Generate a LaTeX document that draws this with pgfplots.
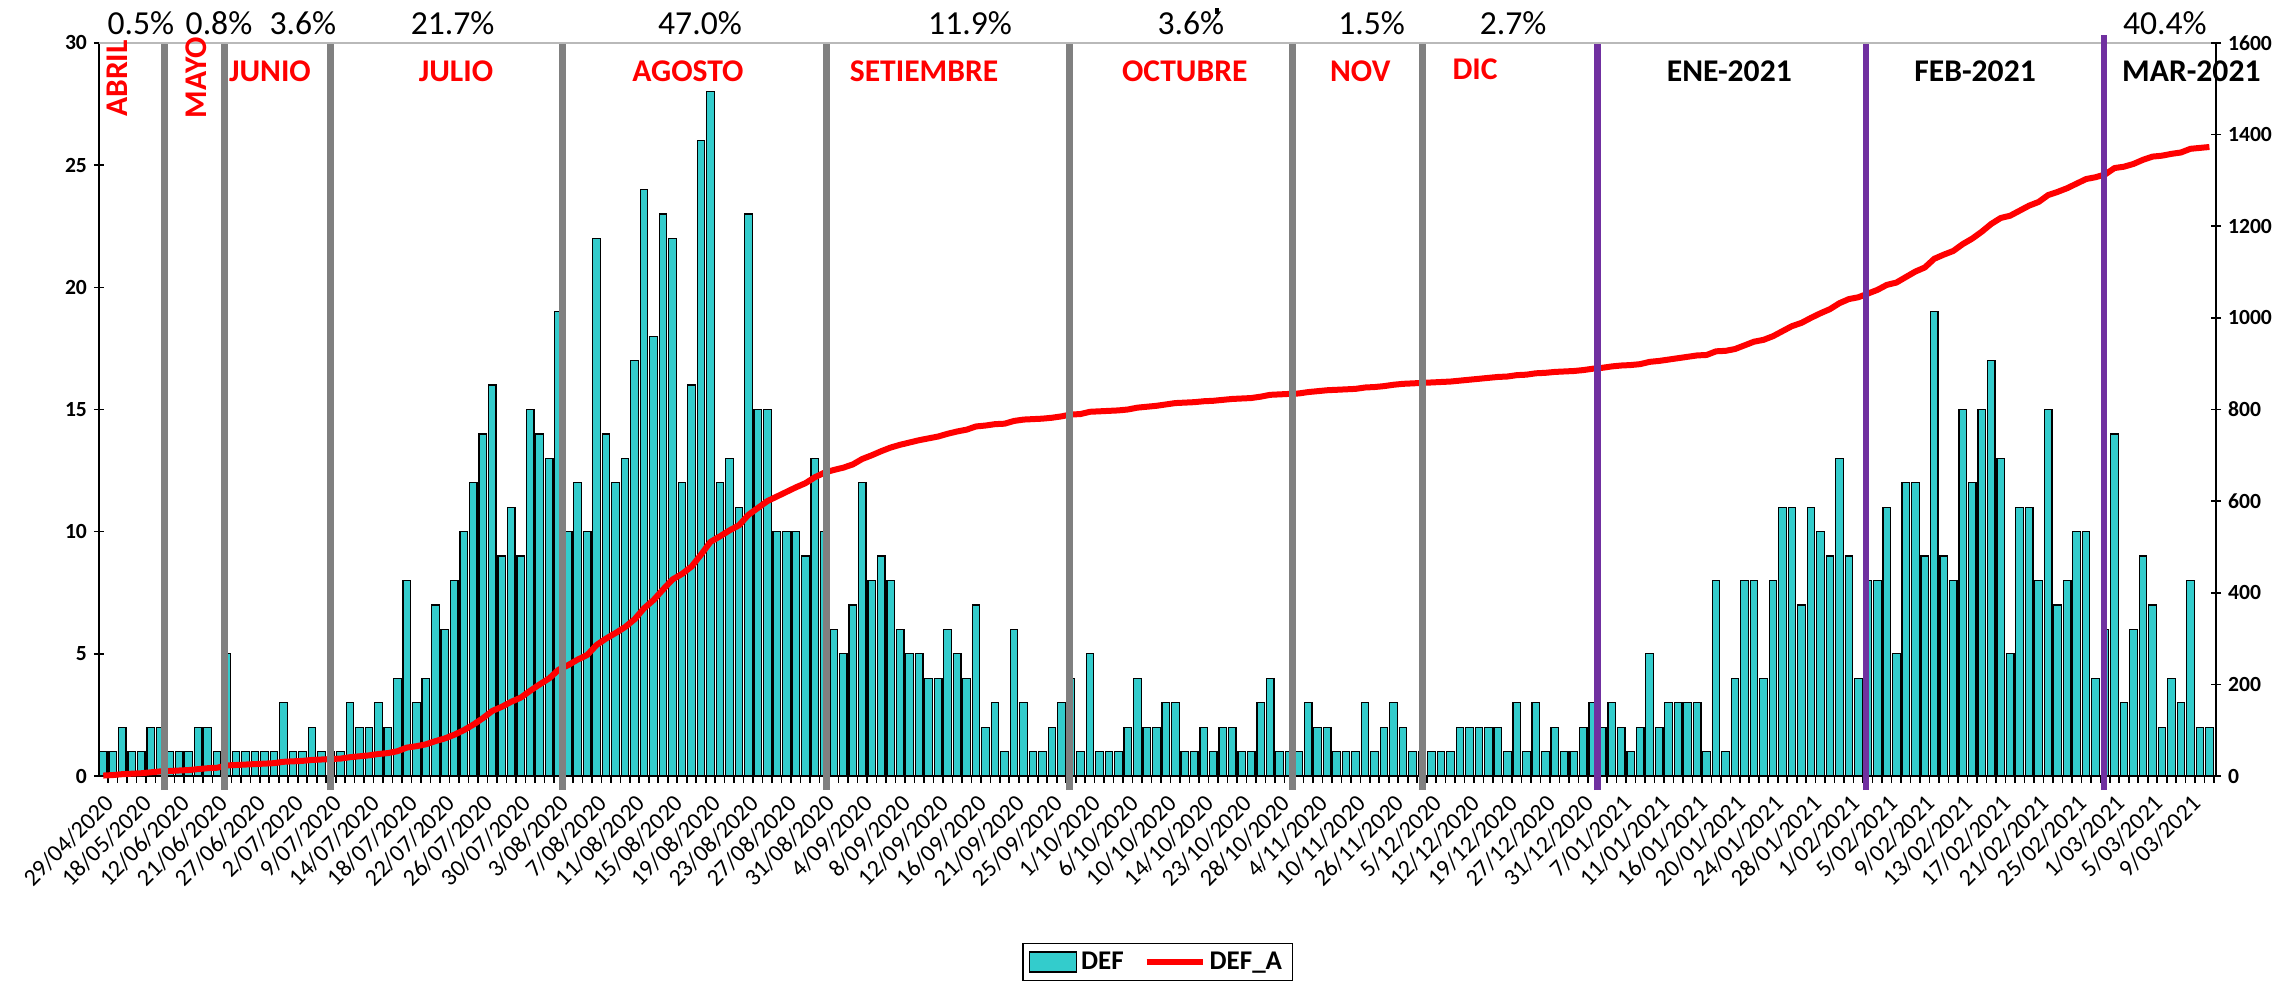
\documentclass[border=0pt]{standalone}
\usepackage{fontspec}
\setmainfont{Carlito}
\usepackage{pgfplots}
\usepackage{pgfplotstable}
\pgfplotsset{compat=1.18}
\definecolor{barcol}{RGB}{51,204,204}
\definecolor{sepgray}{RGB}{128,128,128}
\definecolor{purp}{RGB}{112,48,160}

% i = category (day with deaths), def = daily deaths, cum = accumulated (DEF_A)
\pgfplotstableread[row sep=\\]{
i def cum\\
0 1 1\\ 1 1 2\\ 2 2 4\\ 3 1 5\\ 4 1 6\\ 5 2 8\\ 6 2 10\\ 7 1 11\\ 8 1 12\\ 9 1 13\\
10 2 15\\ 11 2 17\\ 12 1 18\\ 13 5 23\\ 14 1 24\\ 15 1 25\\ 16 1 26\\ 17 1 27\\ 18 1 28\\ 19 3 31\\
20 1 32\\ 21 1 33\\ 22 2 35\\ 23 1 36\\ 24 1 37\\ 25 1 38\\ 26 3 41\\ 27 2 43\\ 28 2 45\\ 29 3 48\\
30 2 50\\ 31 4 54\\ 32 8 62\\ 33 3 65\\ 34 4 69\\ 35 7 76\\ 36 6 82\\ 37 8 90\\ 38 10 100\\ 39 12 112\\
40 14 126\\ 41 16 142\\ 42 9 151\\ 43 11 162\\ 44 9 171\\ 45 15 186\\ 46 14 200\\ 47 13 213\\ 48 19 232\\ 49 10 242\\
50 12 254\\ 51 10 264\\ 52 22 286\\ 53 14 300\\ 54 12 312\\ 55 13 325\\ 56 17 342\\ 57 24 366\\ 58 18 384\\ 59 23 407\\
60 22 429\\ 61 12 441\\ 62 16 457\\ 63 26 483\\ 64 28 511\\ 65 12 523\\ 66 13 536\\ 67 11 547\\ 68 23 570\\ 69 15 585\\
70 15 600\\ 71 10 610\\ 72 10 620\\ 73 10 630\\ 74 9 639\\ 75 13 652\\ 76 10 662\\ 77 6 668\\ 78 5 673\\ 79 7 680\\
80 12 692\\ 81 8 700\\ 82 9 709\\ 83 8 717\\ 84 6 723\\ 85 5 728\\ 86 5 733\\ 87 4 737\\ 88 4 741\\ 89 6 747\\
90 5 752\\ 91 4 756\\ 92 7 763\\ 93 2 765\\ 94 3 768\\ 95 1 769\\ 96 6 775\\ 97 3 778\\ 98 1 779\\ 99 1 780\\
100 2 782\\ 101 3 785\\ 102 4 789\\ 103 1 790\\ 104 5 795\\ 105 1 796\\ 106 1 797\\ 107 1 798\\ 108 2 800\\ 109 4 804\\
110 2 806\\ 111 2 808\\ 112 3 811\\ 113 3 814\\ 114 1 815\\ 115 1 816\\ 116 2 818\\ 117 1 819\\ 118 2 821\\ 119 2 823\\
120 1 824\\ 121 1 825\\ 122 3 828\\ 123 4 832\\ 124 1 833\\ 125 1 834\\ 126 1 835\\ 127 3 838\\ 128 2 840\\ 129 2 842\\
130 1 843\\ 131 1 844\\ 132 1 845\\ 133 3 848\\ 134 1 849\\ 135 2 851\\ 136 3 854\\ 137 2 856\\ 138 1 857\\ 139 1 858\\
140 1 859\\ 141 1 860\\ 142 1 861\\ 143 2 863\\ 144 2 865\\ 145 2 867\\ 146 2 869\\ 147 2 871\\ 148 1 872\\ 149 3 875\\
150 1 876\\ 151 3 879\\ 152 1 880\\ 153 2 882\\ 154 1 883\\ 155 1 884\\ 156 2 886\\ 157 3 889\\ 158 2 891\\ 159 3 894\\
160 2 896\\ 161 1 897\\ 162 2 899\\ 163 5 904\\ 164 2 906\\ 165 3 909\\ 166 3 912\\ 167 3 915\\ 168 3 918\\ 169 1 919\\
170 8 927\\ 171 1 928\\ 172 4 932\\ 173 8 940\\ 174 8 948\\ 175 4 952\\ 176 8 960\\ 177 11 971\\ 178 11 982\\ 179 7 989\\
180 11 1000\\ 181 10 1010\\ 182 9 1019\\ 183 13 1032\\ 184 9 1041\\ 185 4 1045\\ 186 8 1053\\ 187 8 1061\\ 188 11 1072\\ 189 5 1077\\
190 12 1089\\ 191 12 1101\\ 192 9 1110\\ 193 19 1129\\ 194 9 1138\\ 195 8 1146\\ 196 15 1161\\ 197 12 1173\\ 198 15 1188\\ 199 17 1205\\
200 13 1218\\ 201 5 1223\\ 202 11 1234\\ 203 11 1245\\ 204 8 1253\\ 205 15 1268\\ 206 7 1275\\ 207 8 1283\\ 208 10 1293\\ 209 10 1303\\
210 4 1307\\ 211 6 1313\\ 212 14 1327\\ 213 3 1330\\ 214 6 1336\\ 215 9 1345\\ 216 7 1352\\ 217 2 1354\\ 218 4 1358\\ 219 3 1361\\
220 8 1369\\ 221 2 1371\\ 222 2 1373\\
}\deftab

\newcommand{\mon}{\fontsize{15.8}{18}\selectfont\bfseries}
\newcommand{\pct}{\fontsize{16.8}{19}\selectfont}

\begin{document}
\begin{tikzpicture}
\begin{axis}[
  at={(0,0)}, anchor=south west,
  scale only axis, width=1058.5pt, height=366.5pt,
  xmin=-0.45, xmax=222.7, ymin=0, ymax=30,
  axis x line*=bottom, axis y line*=left,
  axis line style={line width=1pt,-},
  ytick={0,5,...,30},
  xtick={0,4,...,220},
  xticklabels={29/04/2020,18/05/2020,12/06/2020,21/06/2020,27/06/2020,2/07/2020,9/07/2020,14/07/2020,18/07/2020,22/07/2020,26/07/2020,30/07/2020,3/08/2020,7/08/2020,11/08/2020,15/08/2020,19/08/2020,23/08/2020,27/08/2020,31/08/2020,4/09/2020,8/09/2020,12/09/2020,16/09/2020,21/09/2020,25/09/2020,1/10/2020,6/10/2020,10/10/2020,14/10/2020,23/10/2020,28/10/2020,4/11/2020,10/11/2020,26/11/2020,5/12/2020,12/12/2020,19/12/2020,27/12/2020,31/12/2020,7/01/2021,11/01/2021,16/01/2021,20/01/2021,24/01/2021,28/01/2021,1/02/2021,5/02/2021,9/02/2021,13/02/2021,17/02/2021,21/02/2021,25/02/2021,1/03/2021,5/03/2021,9/03/2021},
  minor xtick={-0.5,0.5,...,222.5},
  tick align=center, major tick length=5pt, minor tick length=3.5pt,
  tick style={black, line width=0.8pt},
  major x tick style={draw=none},
  minor x tick style={yshift=-1.75pt},
  xticklabel style={rotate=45, anchor=north east, inner sep=0pt, font=\fontsize{12}{14}\selectfont},
  xticklabel shift=6pt,
  yticklabel style={font=\fontsize{10.8}{12}\selectfont\bfseries},
  /pgf/number format/assume math mode=true,
  clip=false,
]
\draw[gray!55, line width=1pt] (rel axis cs:0,1) -- (rel axis cs:1,1);
\addplot[ybar, bar width=0.8, fill=barcol, draw=black, line width=0.6pt] table[x=i,y=def]{\deftab};
\end{axis}

\begin{axis}[
  at={(0,0)}, anchor=south west,
  scale only axis, width=1058.5pt, height=366.5pt,
  xmin=-0.45, xmax=222.7, ymin=0, ymax=1600,
  axis x line=none, axis y line*=right,
  axis line style={line width=1pt,-},
  ytick={0,200,...,1600},
  tick align=center, major tick length=5pt,
  tick style={black, line width=0.8pt},
  yticklabel style={font=\fontsize{10.8}{12}\selectfont\bfseries},
  /pgf/number format/assume math mode=true,
  /pgf/number format/1000 sep={},
  clip=false,
  legend style={at={(0.5,-0.2538)}, anchor=center, draw=black, line width=0.6pt,
    legend columns=2, font=\fontsize{13.5}{15}\selectfont\bfseries,
    /tikz/every even column/.append style={column sep=8pt}},
]
\addlegendimage{legend image code/.code={\draw[fill=barcol, draw=black, line width=0.6pt] (0pt,-5pt) rectangle (23.5pt,5pt);}}
\addlegendentry{DEF}
\addplot[red, line width=3pt, line join=round, legend image code/.code={\draw[red, line width=3pt] (0pt,0pt) -- (28pt,0pt);}] table[x=i,y=cum]{\deftab};
\addlegendentry{DEF\_A}

% month separators
\draw[sepgray, line width=3.5pt] (axis cs:6.46,-30.6) -- (axis cs:6.46,1597.8);
\draw[sepgray, line width=3.5pt] (axis cs:12.76,-30.6) -- (axis cs:12.76,1597.8);
\draw[sepgray, line width=3.5pt] (axis cs:23.97,-30.6) -- (axis cs:23.97,1597.8);
\draw[sepgray, line width=3.5pt] (axis cs:48.4,-30.6) -- (axis cs:48.4,1597.8);
\draw[sepgray, line width=3.5pt] (axis cs:76.2,-30.6) -- (axis cs:76.2,1597.8);
\draw[sepgray, line width=3.5pt] (axis cs:101.8,-30.6) -- (axis cs:101.8,1597.8);
\draw[sepgray, line width=3.5pt] (axis cs:125.4,-30.6) -- (axis cs:125.4,1597.8);
\draw[sepgray, line width=3.5pt] (axis cs:139.1,-30.6) -- (axis cs:139.1,1597.8);
\draw[purp, line width=3.2pt] (axis cs:157.5,-30.6) -- (axis cs:157.5,1597.8);
\draw[purp, line width=3.2pt] (axis cs:185.8,-30.6) -- (axis cs:185.8,1597.8);
\draw[purp, line width=3.2pt] (axis cs:210.9,-30.6) -- (axis cs:210.9,1617.5);

% month names
\node[rotate=90, anchor=east, inner sep=0pt, red, font=\mon] at (axis cs:1.44,1606.5) {ABRIL};
\node[rotate=90, anchor=east, inner sep=0pt, red, font=\mon] at (axis cs:9.77,1613.1) {MAYO};
\node[anchor=base, inner sep=0pt, red, font=\mon] at (axis cs:17.57,1514.9) {JUNIO};
\node[anchor=base, inner sep=0pt, red, font=\mon] at (axis cs:37.18,1514.9) {JULIO};
\node[anchor=base, inner sep=0pt, red, font=\mon] at (axis cs:61.63,1514.9) {AGOSTO};
\node[anchor=base, inner sep=0pt, red, font=\mon] at (axis cs:86.51,1514.9) {SETIEMBRE};
\node[anchor=base, inner sep=0pt, red, font=\mon] at (axis cs:114.0,1514.9) {OCTUBRE};
\node[anchor=base, inner sep=0pt, red, font=\mon] at (axis cs:132.5,1514.9) {NOV};
\node[anchor=base, inner sep=0pt, red, font=\mon] at (axis cs:144.6,1520) {DIC};
\node[anchor=base, inner sep=0pt, font=\mon] at (axis cs:171.4,1514.9) {ENE-2021};
\node[anchor=base, inner sep=0pt, font=\mon] at (axis cs:197.3,1514.9) {FEB-2021};
\node[anchor=base, inner sep=0pt, font=\mon] at (axis cs:220.1,1514.9) {MAR-2021};

% share of deaths per month
\node[anchor=base, inner sep=0pt, font=\pct] at (axis cs:3.97,1617.5) {0.5\%};
\node[anchor=base, inner sep=0pt, font=\pct] at (axis cs:12.2,1617.5) {0.8\%};
\node[anchor=base, inner sep=0pt, font=\pct] at (axis cs:21.05,1617.5) {3.6\%};
\node[anchor=base, inner sep=0pt, font=\pct] at (axis cs:36.82,1617.5) {21.7\%};
\node[anchor=base, inner sep=0pt, font=\pct] at (axis cs:62.9,1617.5) {47.0\%};
\node[anchor=base, inner sep=0pt, font=\pct] at (axis cs:91.36,1617.5) {11.9\%};
\node[anchor=base, inner sep=0pt, font=\pct] at (axis cs:114.65,1617.5) {3.6\%};
\node[anchor=base, inner sep=0pt, font=\pct] at (axis cs:133.7,1617.5) {1.5\%};
\node[anchor=base, inner sep=0pt, font=\pct] at (axis cs:148.6,1617.5) {2.7\%};
\node[anchor=base, inner sep=0pt, font=\pct] at (axis cs:217.3,1617.5) {40.4\%};
\node[fill=black, minimum width=2pt, minimum height=3pt, inner sep=0pt] at (axis cs:117.4,1670) {};
\end{axis}
\pgfresetboundingbox
\useasboundingbox (-49.5pt,-106pt) rectangle (1098pt,388pt);
\end{tikzpicture}
\end{document}
